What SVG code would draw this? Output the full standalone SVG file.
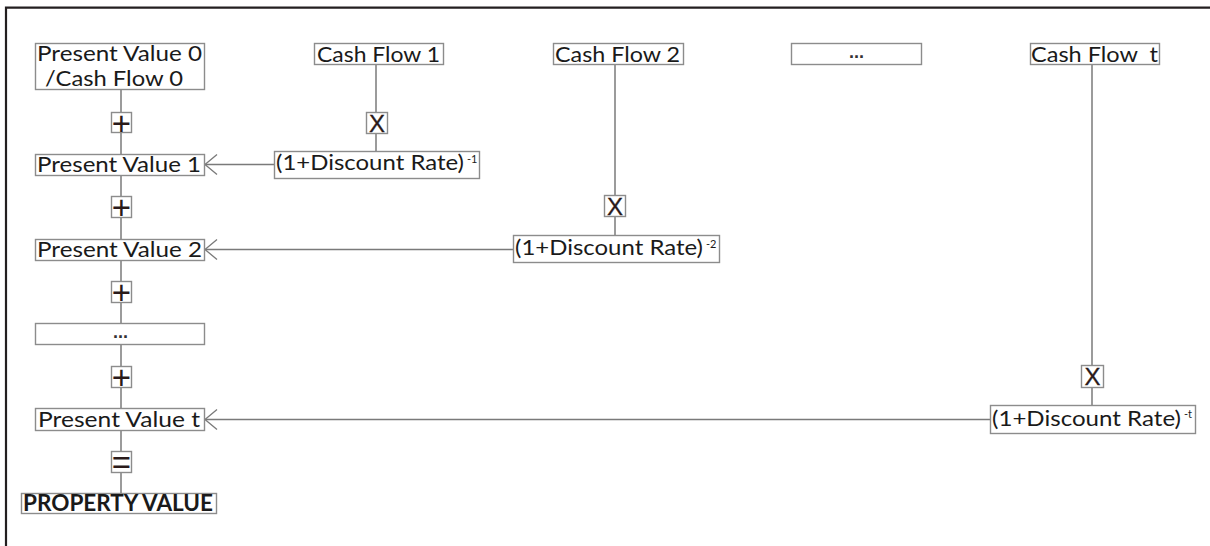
<svg xmlns="http://www.w3.org/2000/svg" width="1210" height="546" viewBox="0 0 1210 546">
<style>
.box{fill:#fff;stroke:#8c8c8c;stroke-width:1.4}
.t{font-family:Lato,"Liberation Sans",sans-serif;font-size:22px;fill:#1a1a1a}
.sup{font-family:Lato,"Liberation Sans",sans-serif;font-size:11px;fill:#1a1a1a}
.op{font-family:"Liberation Sans",Arial,sans-serif;fill:#2a1a1a;text-anchor:middle}
.x{stroke:#2a1a1a;stroke-width:0.3}
.c{stroke:#7a7a7a;stroke-width:1.5;fill:none}
.b{font-weight:bold}
.d{font-family:"Liberation Sans",Arial,sans-serif;font-size:18px;font-weight:bold;fill:#333;text-anchor:middle}
</style>
<defs>
<marker id="arr" markerUnits="userSpaceOnUse" markerWidth="30" markerHeight="30" refX="0" refY="0" orient="auto" viewBox="-15 -15 30 30" overflow="visible">
<path d="M-12,-10 L0,0 L-12,10" fill="none" stroke="#7a7a7a" stroke-width="1.3"/>
</marker>
</defs>
<rect width="1210" height="546" fill="#fff"/>
<path d="M6,546 V7.7 H1210" fill="none" stroke="#231f20" stroke-width="2.2"/>
<g id="connectors">
<line class="c" x1="121" y1="89" x2="121" y2="493"/>
<line class="c" x1="376" y1="64" x2="376" y2="151"/>
<line class="c" x1="615" y1="64" x2="615" y2="235"/>
<line class="c" x1="1092" y1="64" x2="1092" y2="405"/>
<line class="c" x1="274" y1="164.5" x2="205" y2="164.5" marker-end="url(#arr)"/>
<line class="c" x1="513" y1="249.5" x2="205" y2="249.5" marker-end="url(#arr)"/>
<line class="c" x1="990" y1="419.5" x2="205" y2="419.5" marker-end="url(#arr)"/>
</g>
<g id="pv0"><rect class="box" x="35.5" y="43.5" width="169" height="46"/>
<text class="t" font-size="19"><tspan x="37" y="60.5" textLength="165" lengthAdjust="spacingAndGlyphs">Present Value 0</tspan><tspan x="45" y="85.5" textLength="138" lengthAdjust="spacingAndGlyphs">/Cash Flow 0</tspan></text></g>
<g id="op1"><rect class="box" x="111.5" y="112.5" width="20" height="20"/><text class="op" x="121.5" y="134.5" font-size="33">+</text></g>
<g id="pv1"><rect class="box" x="35.5" y="154.5" width="169" height="21"/>
<text class="t" x="37" y="172" textLength="164" lengthAdjust="spacingAndGlyphs">Present Value 1</text></g>
<g id="op2"><rect class="box" x="111.5" y="196.5" width="20" height="21"/><text class="op" x="121.5" y="219" font-size="33">+</text></g>
<g id="pv2"><rect class="box" x="35.5" y="239.5" width="169" height="21"/>
<text class="t" x="37" y="257" textLength="165" lengthAdjust="spacingAndGlyphs">Present Value 2</text></g>
<g id="op3"><rect class="box" x="111.5" y="281.5" width="20" height="21"/><text class="op" x="121.5" y="304" font-size="33">+</text></g>
<g id="dots1"><rect class="box" x="35.5" y="323.5" width="169" height="21"/>
<text class="d" x="120.5" y="338">...</text></g>
<g id="op4"><rect class="box" x="111.5" y="366.5" width="20" height="21"/><text class="op" x="121.5" y="389" font-size="33">+</text></g>
<g id="pvt"><rect class="box" x="35.5" y="408.5" width="169" height="22"/>
<text class="t" x="38" y="427" textLength="162" lengthAdjust="spacingAndGlyphs">Present Value t</text></g>
<g id="op5"><rect class="box" x="111.5" y="451.5" width="20" height="21"/><text class="op" x="121.5" y="473.5" font-size="33">=</text></g>
<g id="property"><rect class="box" x="21.5" y="493.5" width="195" height="20" stroke="#777"/>
<text class="t b" x="23" y="511" textLength="190" lengthAdjust="spacingAndGlyphs">PROPERTY VALUE</text></g>
<g id="cf1"><rect class="box" x="314.5" y="43.5" width="129" height="21"/>
<text class="t" x="317" y="62" textLength="123" lengthAdjust="spacingAndGlyphs">Cash Flow 1</text></g>
<g id="x1"><rect class="box" x="366.5" y="112.5" width="21" height="21"/><text class="op x" x="377" y="131.5" font-size="24">X</text></g>
<g id="dr1"><rect class="box" x="274.5" y="151.5" width="205" height="27"/>
<text class="t" x="276" y="170" textLength="188" lengthAdjust="spacingAndGlyphs">(1+Discount Rate)</text>
<text class="sup" x="467" y="163">-1</text></g>
<g id="cf2"><rect class="box" x="553.5" y="43.5" width="130" height="21"/>
<text class="t" x="555" y="62" textLength="125" lengthAdjust="spacingAndGlyphs">Cash Flow 2</text></g>
<g id="x2"><rect class="box" x="604.5" y="195.5" width="21" height="21"/><text class="op x" x="615" y="214.5" font-size="24">X</text></g>
<g id="dr2"><rect class="box" x="513.5" y="235.5" width="206" height="27"/>
<text class="t" x="515" y="255" textLength="188" lengthAdjust="spacingAndGlyphs">(1+Discount Rate)</text>
<text class="sup" x="706" y="248">-2</text></g>
<g id="dots2"><rect class="box" x="791.5" y="43.5" width="130" height="21"/>
<text class="d" x="856.5" y="58">...</text></g>
<g id="cft"><rect class="box" x="1030.5" y="43.5" width="129" height="21"/>
<text class="t" x="1031" y="62" textLength="127" lengthAdjust="spacingAndGlyphs" xml:space="preserve">Cash Flow  t</text></g>
<g id="xt"><rect class="box" x="1081.5" y="365.5" width="22" height="22"/><text class="op x" x="1092.5" y="385" font-size="24">X</text></g>
<g id="drt"><rect class="box" x="990.5" y="405.5" width="205" height="28"/>
<text class="t" x="992" y="426" textLength="189" lengthAdjust="spacingAndGlyphs">(1+Discount Rate)</text>
<text class="sup" x="1184" y="418">-t</text></g>
</svg>
